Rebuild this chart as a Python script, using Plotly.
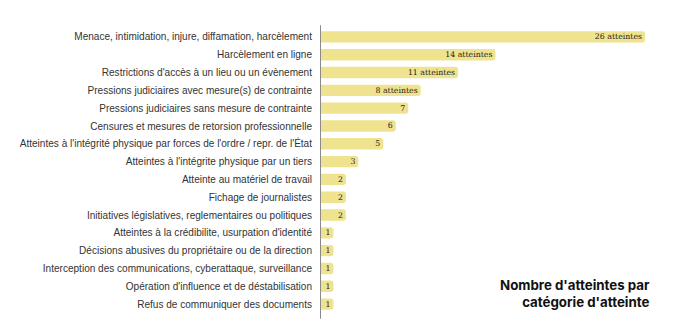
import plotly.graph_objects as go

categories = [
    "Menace, intimidation, injure, diffamation, harcèlement",
    "Harcèlement en ligne",
    "Restrictions d'accès à un lieu ou un évènement",
    "Pressions judiciaires avec mesure(s) de contrainte",
    "Pressions judiciaires sans mesure de contrainte",
    "Censures et mesures de retorsion professionnelle",
    "Atteintes à l'intégrité physique par forces de l'ordre / repr. de l'État",
    "Atteintes à l'intégrite physique par un tiers",
    "Atteinte au matériel de travail",
    "Fichage de journalistes",
    "Initiatives législatives, reglementaires ou politiques",
    "Atteintes à la crédibilite, usurpation d'identité",
    "Décisions abusives du propriétaire ou de la direction",
    "Interception des communications, cyberattaque, surveillance",
    "Opération d'influence et de déstabilisation",
    "Refus de communiquer des documents",
]
values = [26, 14, 11, 8, 7, 6, 5, 3, 2, 2, 2, 1, 1, 1, 1, 1]
labels = [f"{v} atteintes" if v >= 8 else str(v) for v in values]
title_text = "Nombre d'atteintes par<br>catégorie d'atteinte"

fig = go.Figure(go.Bar(
    x=values, y=categories, orientation="h",
    text=labels, textposition="inside", insidetextanchor="end",
    textangle=0, constraintext="none", cliponaxis=False,
    textfont=dict(family="DejaVu Serif", size=7.8, color="#222"),
    marker=dict(color="#F0E38F", cornerradius=3, line=dict(width=0)),
    width=0.64,
))

fig.update_layout(
    width=677, height=333,
    margin=dict(l=320, r=17, t=28, b=20),
    paper_bgcolor="white", plot_bgcolor="white",
    showlegend=False,
    xaxis=dict(range=[-0.08, 27.2], visible=False, fixedrange=True),
    yaxis=dict(autorange="reversed", showgrid=False, zeroline=False,
               showline=False, ticks="", ticklabelstandoff=7,
               tickfont=dict(family="Liberation Sans", size=10.05, color="#333")),
    annotations=[dict(
        text=title_text, xref="paper", yref="paper", x=0.974, y=0.0667,
        xanchor="right", yanchor="middle", align="right", showarrow=False,
        borderpad=0,
        font=dict(family="Inter", size=13.3, color="#111", weight=700),
    )],
    shapes=[dict(type="line", xref="x", yref="paper", x0=-0.08, x1=-0.08,
                 y0=-0.02, y1=1.01, line=dict(color="#8a8a8a", width=2))],
)

fig.write_html("out.html")
